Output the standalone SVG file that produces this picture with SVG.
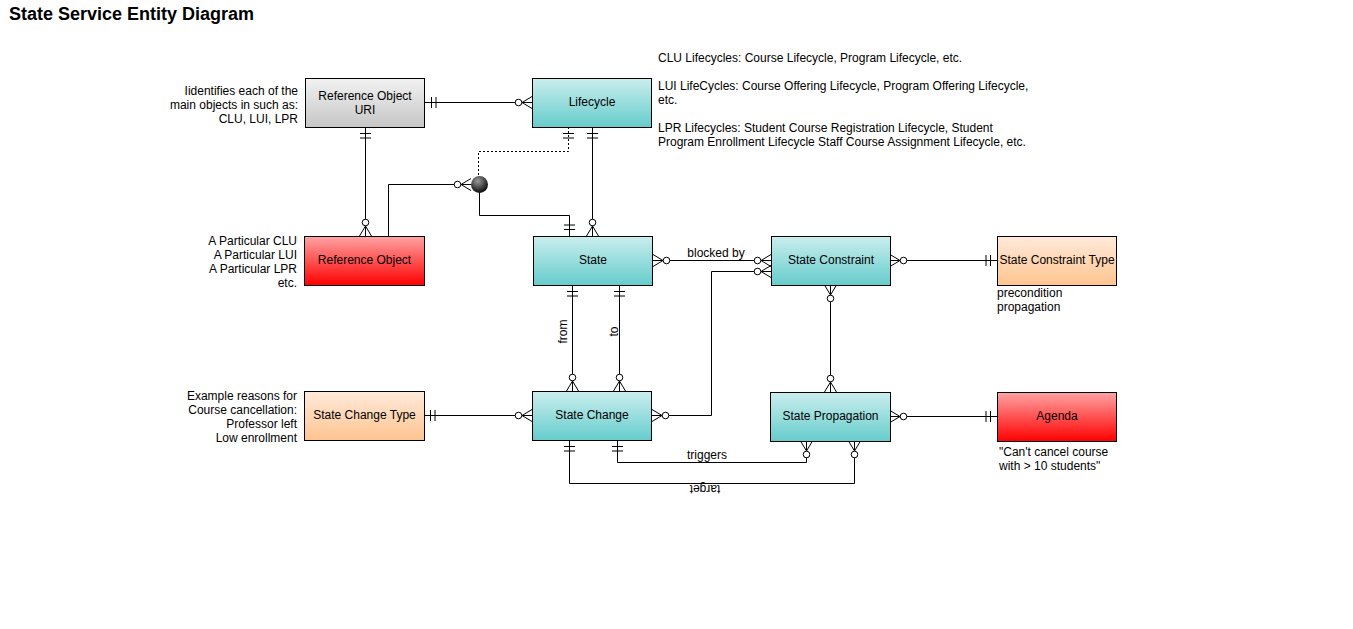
<svg xmlns="http://www.w3.org/2000/svg" width="1353" height="629" viewBox="0 0 1353 629">
<style>
text{font-family:"Liberation Sans",Arial,sans-serif;font-size:12px;fill:#000}
.title{font-size:18px;font-weight:bold}
.node rect{stroke:#000;stroke-width:1}
.lbl{text-anchor:middle}
.r{text-anchor:end}
.c path{fill:none;stroke:#000;stroke-width:1}
.dot{stroke-dasharray:2,2}
</style>
<defs>
<linearGradient id="gGray" x1="0" y1="0" x2="0" y2="1"><stop offset="0" stop-color="#f2f2f2"/><stop offset="1" stop-color="#c6c6c6"/></linearGradient>
<linearGradient id="gTeal" x1="0" y1="0" x2="0" y2="1"><stop offset="0" stop-color="#caeeee"/><stop offset="1" stop-color="#66cccc"/></linearGradient>
<linearGradient id="gRed" x1="0" y1="0" x2="0" y2="1"><stop offset="0" stop-color="#ffa3a3"/><stop offset="1" stop-color="#ff0000"/></linearGradient>
<linearGradient id="gOrange" x1="0" y1="0" x2="0" y2="1"><stop offset="0" stop-color="#ffeadb"/><stop offset="1" stop-color="#ffc48f"/></linearGradient>
<radialGradient id="gBall" cx="0.4" cy="0.3" r="0.75"><stop offset="0" stop-color="#9a9a9a"/><stop offset="1" stop-color="#000"/></radialGradient>
<marker id="many" markerUnits="userSpaceOnUse" markerWidth="40" markerHeight="40" refX="0" refY="0" viewBox="-20 -20 40 40" orient="auto-start-reverse" overflow="visible">
<path d="M-10,0 L0,-6 M-10,0 L0,0 M-10,0 L0,6" fill="none" stroke="#000" stroke-width="1"/>
<circle cx="-13.5" cy="0" r="3.3" fill="#fff" stroke="#000" stroke-width="1"/>
</marker>
<marker id="one" markerUnits="userSpaceOnUse" markerWidth="40" markerHeight="40" refX="0" refY="0" viewBox="-20 -20 40 40" orient="auto-start-reverse" overflow="visible">
<path d="M-6.5,-5.5 V5.5 M-11,-5.5 V5.5" fill="none" stroke="#000" stroke-width="1"/>
</marker>
</defs>
<rect width="1353" height="629" fill="#fff"/>
<text class="title" x="9" y="20">State Service Entity Diagram</text>

<g class="c" id="connectors">
<path d="M425,102.5 H532" marker-start="url(#one)" marker-end="url(#many)"/>
<path d="M365.5,127 V236" marker-start="url(#one)" marker-end="url(#many)"/>
<path d="M592.5,127 V236" marker-start="url(#one)" marker-end="url(#many)"/>
<path class="dot" d="M568.5,127 V151.5 H478.5 V176" marker-start="url(#one)"/>
<path d="M471,184.5 H388.5 V236" marker-start="url(#many)"/>
<path d="M479.5,193 V215.5 H569.5 V236" marker-end="url(#one)"/>
<path d="M653,260.5 H771" marker-start="url(#many)" marker-end="url(#many)"/>
<path d="M652,415.5 H711.5 V271.5 H771" marker-start="url(#many)" marker-end="url(#many)"/>
<path d="M890,260.5 H997" marker-start="url(#many)" marker-end="url(#one)"/>
<path d="M830.5,285 V392" marker-start="url(#many)" marker-end="url(#many)"/>
<path d="M890,416.5 H997" marker-start="url(#many)" marker-end="url(#one)"/>
<path d="M572.5,285 V391" marker-start="url(#one)" marker-end="url(#many)"/>
<path d="M619.5,285 V391" marker-start="url(#one)" marker-end="url(#many)"/>
<path d="M424,415.5 H532" marker-start="url(#one)" marker-end="url(#many)"/>
<path d="M569.5,440 V483.5 H854.5 V441" marker-start="url(#one)" marker-end="url(#many)"/>
<path d="M617.5,440 V462.5 H806.5 V441" marker-start="url(#one)" marker-end="url(#many)"/>
<text class="lbl" x="716" y="257">blocked by</text>
<text class="lbl" transform="translate(567,331.5) rotate(-90)">from</text>
<text class="lbl" transform="translate(617.5,331.5) rotate(-90)">to</text>
<text class="lbl" x="707" y="459">triggers</text>
<text class="lbl" transform="translate(705,484.5) rotate(180)">target</text>
</g>

<g id="junction"><circle cx="479.5" cy="184.5" r="8.5" fill="url(#gBall)"/></g>

<g class="node" id="ref-object-uri">
<rect x="305.5" y="78.5" width="119" height="49" fill="url(#gGray)"/>
<text class="lbl" x="365" y="100">Reference Object</text>
<text class="lbl" x="365" y="114">URI</text>
</g>
<g class="node" id="lifecycle">
<rect x="532.5" y="78.5" width="119" height="49" fill="url(#gTeal)"/>
<text class="lbl" x="592" y="106">Lifecycle</text>
</g>
<g class="node" id="reference-object">
<rect x="304.5" y="236.5" width="120" height="49" fill="url(#gRed)"/>
<text class="lbl" x="364.5" y="264">Reference Object</text>
</g>
<g class="node" id="state">
<rect x="533.5" y="236.5" width="119" height="49" fill="url(#gTeal)"/>
<text class="lbl" x="593" y="264">State</text>
</g>
<g class="node" id="state-constraint">
<rect x="771.5" y="236.5" width="119" height="49" fill="url(#gTeal)"/>
<text class="lbl" x="831" y="264">State Constraint</text>
</g>
<g class="node" id="state-constraint-type">
<rect x="997.5" y="236.5" width="119" height="49" fill="url(#gOrange)"/>
<text class="lbl" x="1057" y="264">State Constraint Type</text>
</g>
<g class="node" id="state-change-type">
<rect x="304.5" y="391.5" width="120" height="49" fill="url(#gOrange)"/>
<text class="lbl" x="364.5" y="419">State Change Type</text>
</g>
<g class="node" id="state-change">
<rect x="532.5" y="391.5" width="119" height="49" fill="url(#gTeal)"/>
<text class="lbl" x="592" y="419">State Change</text>
</g>
<g class="node" id="state-propagation">
<rect x="770.5" y="392.5" width="120" height="49" fill="url(#gTeal)"/>
<text class="lbl" x="830.5" y="420">State Propagation</text>
</g>
<g class="node" id="agenda">
<rect x="997.5" y="392.5" width="119" height="49" fill="url(#gRed)"/>
<text class="lbl" x="1057" y="420">Agenda</text>
</g>

<g id="notes">
<text x="658" y="62">CLU Lifecycles: Course Lifecycle, Program Lifecycle, etc.</text>
<text x="658" y="90">LUI LifeCycles: Course Offering Lifecycle, Program Offering Lifecycle,</text>
<text x="658" y="104">etc.</text>
<text x="658" y="132">LPR Lifecycles: Student Course Registration Lifecycle, Student</text>
<text x="658" y="146">Program Enrollment Lifecycle Staff Course Assignment Lifecycle, etc.</text>
<text class="r" x="298" y="95">Iidentifies each of the</text>
<text class="r" x="298" y="109">main objects in such as:</text>
<text class="r" x="298" y="123">CLU, LUI, LPR</text>
<text class="r" x="297" y="245">A Particular CLU</text>
<text class="r" x="297" y="259">A Particular LUI</text>
<text class="r" x="297" y="273">A Particular LPR</text>
<text class="r" x="297" y="287">etc.</text>
<text class="r" x="297" y="400">Example reasons for</text>
<text class="r" x="297" y="414">Course cancellation:</text>
<text class="r" x="297" y="428">Professor left</text>
<text class="r" x="297" y="442">Low enrollment</text>
<text x="997" y="297">precondition</text>
<text x="997" y="311">propagation</text>
<text x="999" y="456">"Can't cancel course</text>
<text x="999" y="470">with &gt; 10 students"</text>
</g>
</svg>
